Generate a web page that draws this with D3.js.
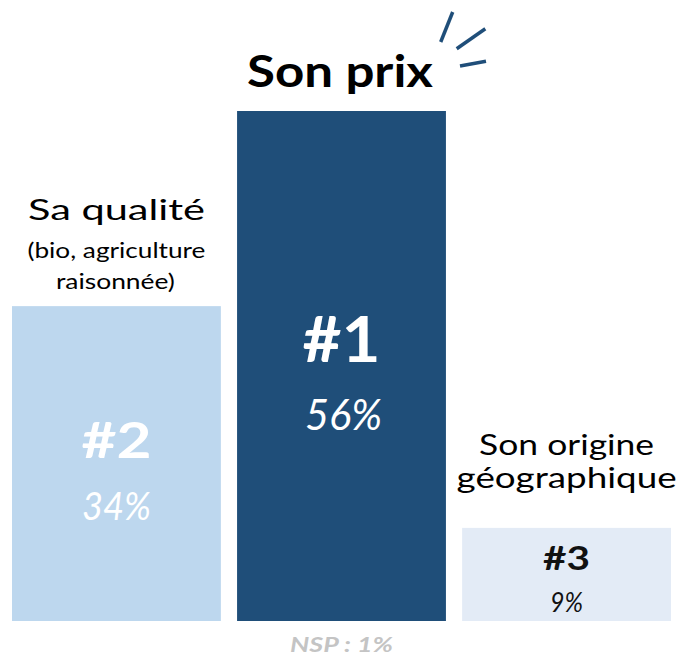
<!DOCTYPE html>
<html><head><meta charset="utf-8">
<script src="https://cdn.jsdelivr.net/npm/d3@7"></script>
<style>body{margin:0;background:#fff}svg{display:block}text{font-family:Lato,sans-serif}</style>
</head><body><svg id="c" width="680" height="657"></svg>
<script>
const categories = ["Sa qualité", "Son prix", "Son origine géographique"];
const ranks = ["#2", "#1", "#3"];
const values = [34, 56, 9];
const nspLabel = "NSP : 1%";
const colors = ["#bdd7ee", "#1f4e79", "#e3ebf6"];

const svg = d3.select("#c");
const x = d3.scaleBand().domain(categories).range([12, 671]).paddingInner(0.072).paddingOuter(0);
const y = d3.scaleLinear().domain([-1.5, 56]).range([621, 111]);

svg.selectAll("rect.bar").data(values).join("rect")
  .attr("class","bar")
  .attr("x",(d,i)=>x(categories[i]))
  .attr("width",x.bandwidth())
  .attr("y",d=>y(d))
  .attr("height",d=>y(-1.5)-y(d))
  .attr("fill",(d,i)=>colors[i]);

function t(str, xx, yy, size, weight, style, fill, len){
  const el = svg.append("text").attr("x",xx).attr("y",yy).attr("text-anchor","middle")
    .attr("font-size",size).attr("font-weight",weight).attr("font-style",style).attr("fill",fill).text(str);
  if (len) el.attr("textLength",len).attr("lengthAdjust","spacingAndGlyphs");
  return el;
}
const c = i => x(categories[i]) + x.bandwidth()/2;
// labels above bars
t("Son prix", 340, y(values[1]) - 24, 43, 700, "normal", "#000", 186);
t("Sa qualité", c(0), y(values[0]) - 86, 29, 400, "normal", "#000", 177);
t("(bio, agriculture", c(0), y(values[0]) - 48, 21, 400, "normal", "#000", 178);
t("raisonnée)", c(0) - 1, y(values[0]) - 17, 21, 400, "normal", "#000", 119);
t("Son origine", c(2), y(values[2]) - 73, 28, 400, "normal", "#000", 175);
t("géographique", c(2), y(values[2]) - 40, 28, 400, "normal", "#000", 220);
// inside bars
t(ranks[1], c(1), 362, 63, 700, "normal", "#fff", 78);
t(values[1]+"%", c(1) + 2, 430, 42, 400, "italic", "#fff", 77);
t(ranks[0], c(0), 458, 50, 700, "normal", "#fff", 70);
t(values[0]+"%", c(0), 520, 39, 400, "italic", "#fff", 69);
t(ranks[2], c(2), 570, 32, 700, "normal", "#111", 47);
t(values[2]+"%", c(2), 612, 27, 400, "italic", "#111", 33);
t(nspLabel, c(1), 652, 21, 700, "italic", "#c4c4c4", 103);
// decorative strokes
const strokes = [[[452.7,12],[440.7,42]],[[485.3,28.7],[456.7,48.7]],[[460,66],[486,61.3]]];
svg.selectAll("line.deco").data(strokes).join("line").attr("class","deco")
  .attr("x1",d=>d[0][0]).attr("y1",d=>d[0][1]).attr("x2",d=>d[1][0]).attr("y2",d=>d[1][1])
  .attr("stroke","#1f4e79").attr("stroke-width",3.5);
</script></body></html>
